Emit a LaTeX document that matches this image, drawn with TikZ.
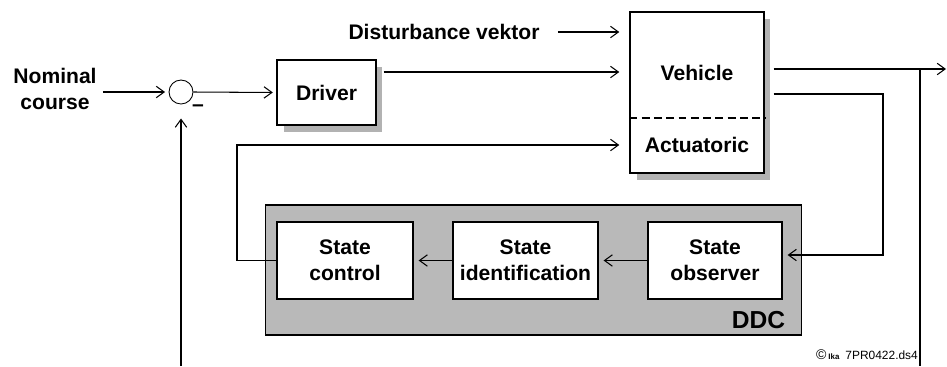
\documentclass[tikz,border=0pt]{standalone}
\usepackage{fontspec}
\setmainfont{Liberation Sans}
\usepackage{tikz}
\usetikzlibrary{arrows.meta,shadows,calc}

\begin{document}
\begin{tikzpicture}[x=0.02cm, y=-0.02cm, line width=0.6pt,
  font=\fontsize{12}{14.8}\selectfont\bfseries,
  arr/.style={-{Straight Barb[length=4.5pt,width=6.5pt]}},
  blk/.style={draw, line width=0.8pt, fill=white, align=center, inner sep=0pt},
  shd/.style={drop shadow={shadow xshift=0.13cm, shadow yshift=-0.14cm, fill=gray!60, opacity=1}}]
\useasboundingbox (0,0) rectangle (947,366);
%%%%% DDC %%%%%
\node[draw, fill=gray!55, minimum width=10.74cm, minimum height=2.6cm, inner sep=0pt] (ddc) at (533.5,270) {};
\node[anchor=base east, font=\fontsize{14}{16}\selectfont\bfseries] (ddclabel) at ($(ddc.south east)+(-11,-7)$) {DDC};
\node[blk, minimum width=2.72cm, minimum height=1.54cm] (ctrl) at (345,260.5) {State\\control};
\node[blk, minimum width=2.9cm, minimum height=1.54cm] (ident) at (525.5,260.5) {State\\identification};
\node[blk, minimum width=2.68cm, minimum height=1.54cm] (obs) at (715,260.5) {State\\observer};
%%%%% Driver and vehicle %%%%%
\node[blk, shd, minimum width=1.98cm, minimum height=1.3cm] (driver) at (326.5,92.5) {Driver};
\node[blk, shd, minimum width=2.68cm, minimum height=3.22cm] (vehicle) at (697,92.5) {};
\draw[dash pattern=on 4.5pt off 2.5pt] (vehicle.west |- 0,118) -- (vehicle.east |- 0,118);
\node (vehtext) at (697,73) {Vehicle};
\node (act) at (697,145) {Actuatoric};
%%%%% Inputs %%%%%
\node[align=center] (nom) at (55,89) {Nominal\\course};
\node[draw, circle, minimum size=0.48cm, inner sep=0pt, line width=0.5pt] (sum) at (181,92) {};
\node (minus) at (198,108) {\textendash};
\node (dist) at (444,32) {Disturbance vektor};
\node[font=\fontsize{6.8}{8}\selectfont] (ika) at (867,355) {{\fontsize{8}{9}\selectfont©}\,{\fontsize{4.5}{5}\selectfont\bfseries Ika}\enspace 7PR0422.ds4};
\coordinate (fbleft) at (237,145);
\coordinate (out) at (946,69);
\coordinate (tap) at (920,69);
\coordinate (fbbot) at (920,366);
\coordinate (refbot) at (181,366);
\coordinate (obsturn) at (883,255);
%%%%% Connectors %%%%%
\draw[arr, shorten >=2pt] (nom.east |- sum) -- (sum.west);
\draw[arr, shorten >=2pt] (sum.east) -- (driver.west);
\draw[arr, shorten >=8pt] (refbot) -- (sum.south);
\draw[arr, shorten >=5.7pt] ($(driver.east |- 0,72)+(7,0)$) -- (vehicle.west |- 0,72);
\draw[arr, shorten >=5.7pt] ($(dist.east)+(12,0)$) -- (vehicle.west |- dist);
\draw[arr, shorten >=5.7pt] (ctrl.west) -| (fbleft) -- (vehicle.west |- fbleft);
\draw[arr] ($(vehicle.east |- out)+(9,0)$) -- (out);
\draw (tap) -- (fbbot);
\draw[arr, shorten >=2.8pt] ($(vehicle.east |- 0,94)+(9,0)$) -| (obsturn) -- (obs.east |- obsturn);
\foreach \a/\b in {obs/ident, ident/ctrl}{
\draw[arr, shorten >=2.8pt] (\a.west) -- (\b.east);
}
\end{tikzpicture}
\end{document}
